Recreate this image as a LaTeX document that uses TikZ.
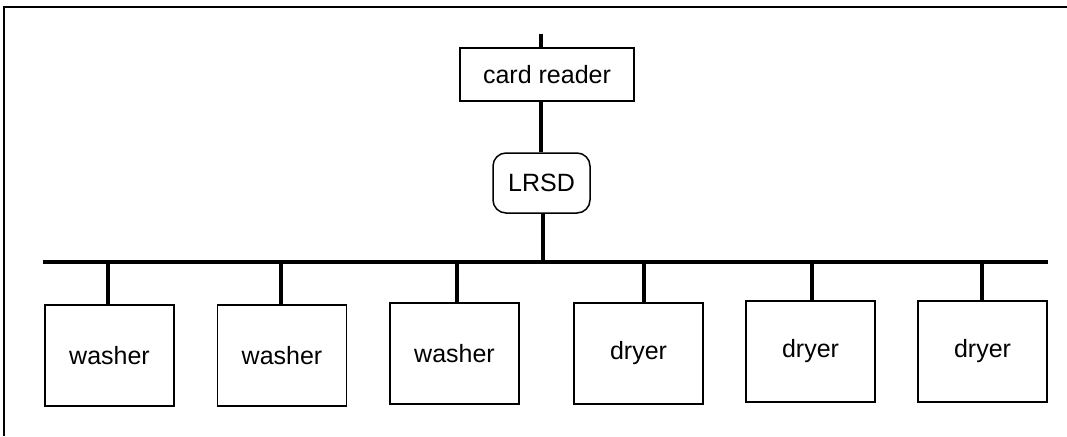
\documentclass[tikz,border=0pt]{standalone}
\usepackage{fontspec}
\setmainfont{Liberation Sans}
\begin{document}
\begin{tikzpicture}[x=1pt,y=-1pt,
  box/.style={draw,line width=1.5pt,inner sep=0pt,minimum width=129pt,minimum height=101pt,font=\fontsize{25}{29}\selectfont},
  wire/.style={line width=3.2pt},
  frame/.style={line width=2.4pt}]
\useasboundingbox (0,0) rectangle (1067,436);
% frame
\coordinate (fTL) at (4,7);
\coordinate (fTR) at (1067,7);
\coordinate (fBL) at (4,436);
\draw[frame] (fTR) -- (fTL) -- (fBL);
% top nodes
\node[box,minimum width=174pt,minimum height=53pt] (card) at (547,74.5) {card reader};
\node[box,rounded corners=13pt,minimum width=97pt,minimum height=60pt] (lrsd) at (541.5,183) {LRSD};
\coordinate (top) at (541,34);
\draw[wire] (top) -- (top |- card.north);
\coordinate (c1) at (541,101);
\draw[wire] (c1) -- (c1 |- lrsd.north);
% bus
\coordinate (busL) at (43,262);
\coordinate (busR) at (1048,262);
\draw[wire] (busL) -- (busR);
\coordinate (l1) at (543,213);
\draw[wire] (lrsd.south -| l1) -- (l1 |- busL);
% devices
\node[box] (w1) at (109.5,355.5) {washer};
\node[box] (w2) at (282,355.5) {washer};
\node[box] (w3) at (454.5,353.5) {washer};
\node[box] (d1) at (638.5,353.5) {dryer};
\node[box] (d2) at (810.5,351.5) {dryer};
\node[box] (d3) at (982.5,351.5) {dryer};
\coordinate (s1) at (108,262);
\coordinate (s2) at (281,262);
\coordinate (s3) at (457,262);
\coordinate (s4) at (644,262);
\coordinate (s5) at (812,262);
\coordinate (s6) at (982,262);
\draw[wire] (s1) -- (s1 |- w1.north);
\draw[wire] (s2) -- (s2 |- w2.north);
\draw[wire] (s3) -- (s3 |- w3.north);
\draw[wire] (s4) -- (s4 |- d1.north);
\draw[wire] (s5) -- (s5 |- d2.north);
\draw[wire] (s6) -- (s6 |- d3.north);
\end{tikzpicture}
\end{document}
